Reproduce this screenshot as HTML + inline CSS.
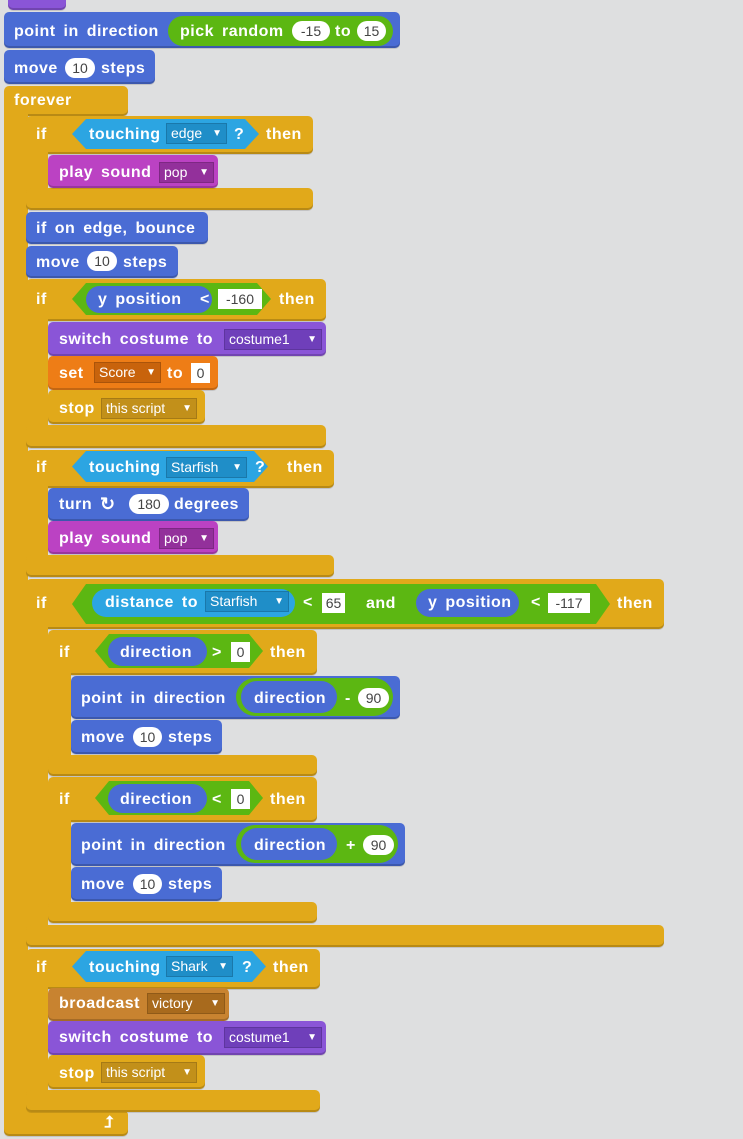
<!DOCTYPE html>
<html><head><meta charset="utf-8"><style>
body{margin:0;width:743px;height:1139px;overflow:hidden;background:#dedfe0;position:relative;font-family:"Liberation Sans",sans-serif}
.b{position:absolute;border-radius:5px;box-shadow:inset 0 -2px 0 rgba(0,0,0,.18),0 1px 0 rgba(0,0,0,.12)}
.m{background:#4a6cd4}.c{background:#e1a91a}.s{background:#2ca5e2}.g{background:#5cb712}.p{background:#bb42c3}.l{background:#8a55d7}.v{background:#ee7d16}.e{background:#c88330}
.t{position:absolute;color:#fff;font-weight:bold;font-size:16px;letter-spacing:0.5px;word-spacing:3px;line-height:18px;white-space:nowrap;margin-top:1px}
.o{position:absolute;background:#fff;border-radius:10px;color:#444;font-size:14px;text-align:center;line-height:20px;height:20px}
.x{position:absolute;background:#fff;color:#444;font-size:14px;text-align:center;line-height:20px;height:20px}
.d{position:absolute;color:#fff;font-size:14px;line-height:21px;height:21px;padding-left:5px;box-sizing:border-box;box-shadow:inset 0 0 0 1px rgba(0,0,0,.15);white-space:nowrap}
.d::after{content:"▼";position:absolute;right:5px;top:0;font-size:10px}
.h{position:absolute;clip-path:polygon(14px 0,calc(100% - 14px) 0,100% 50%,calc(100% - 14px) 100%,14px 100%,0 50%)}
.r{position:absolute;border-radius:16px}
</style></head><body>
<div class="b l" style="left:8px;top:-8px;width:58px;height:18px"></div>
<div class="b m" style="left:4px;top:12px;width:396px;height:36px"></div>
<div class="t" style="left:14px;top:22px">point in direction</div>
<div class="r g" style="left:168px;top:16px;width:225px;height:30px"></div>
<div class="t" style="left:180px;top:22px">pick random</div>
<div class="o" style="left:292px;top:21px;width:38px">-15</div>
<div class="t" style="left:335px;top:22px">to</div>
<div class="o" style="left:357px;top:21px;width:29px">15</div>
<div class="b m" style="left:4px;top:50px;width:151px;height:34px"></div>
<div class="t" style="left:14px;top:59px">move</div>
<div class="o" style="left:65px;top:58px;width:30px">10</div>
<div class="t" style="left:101px;top:59px">steps</div>
<div class="b c" style="left:4px;top:86px;width:124px;height:30px"></div>
<div class="c" style="position:absolute;left:4px;top:100px;width:24px;height:1020px"></div>
<div class="b c" style="left:4px;top:1110px;width:124px;height:26px"></div>
<div class="t" style="left:14px;top:91px">forever</div>
<div class="t" style="left:104px;top:1113px;font-size:16px">⮥</div>
<div class="b c" style="left:26px;top:116px;width:287px;height:38px"></div>
<div class="c" style="position:absolute;left:26px;top:140px;width:22px;height:60px"></div>
<div class="b c" style="left:26px;top:188px;width:287px;height:22px"></div>
<div class="t" style="left:36px;top:125px">if</div>
<div class="h s" style="left:72px;top:119px;width:187px;height:30px"></div>
<div class="t" style="left:89px;top:125px">touching</div>
<div class="d" style="left:166px;top:123px;width:61px;background:#1f8ec8">edge</div>
<div class="t" style="left:234px;top:125px">?</div>
<div class="t" style="left:266px;top:125px">then</div>
<div class="b p" style="left:48px;top:155px;width:170px;height:33px"></div>
<div class="t" style="left:59px;top:163px">play sound</div>
<div class="d" style="left:159px;top:162px;width:55px;background:#93309b">pop</div>
<div class="b m" style="left:26px;top:212px;width:182px;height:32px"></div>
<div class="t" style="left:36px;top:219px">if on edge, bounce</div>
<div class="b m" style="left:26px;top:246px;width:152px;height:32px"></div>
<div class="t" style="left:36px;top:253px">move</div>
<div class="o" style="left:87px;top:251px;width:30px">10</div>
<div class="t" style="left:123px;top:253px">steps</div>
<div class="b c" style="left:26px;top:279px;width:300px;height:42px"></div>
<div class="c" style="position:absolute;left:26px;top:310px;width:22px;height:125px"></div>
<div class="b c" style="left:26px;top:425px;width:300px;height:23px"></div>
<div class="t" style="left:36px;top:290px">if</div>
<div class="h g" style="left:72px;top:283px;width:199px;height:32px"></div>
<div class="r m" style="left:86px;top:286px;width:126px;height:27px"></div>
<div class="t" style="left:98px;top:290px">y position</div>
<div class="t" style="left:200px;top:290px">&lt;</div>
<div class="x" style="left:218px;top:289px;width:44px">-160</div>
<div class="t" style="left:279px;top:290px">then</div>
<div class="b l" style="left:48px;top:322px;width:278px;height:34px"></div>
<div class="t" style="left:59px;top:330px">switch costume to</div>
<div class="d" style="left:224px;top:329px;width:98px;background:#6f3fba">costume1</div>
<div class="b v" style="left:48px;top:356px;width:170px;height:34px"></div>
<div class="t" style="left:59px;top:364px">set</div>
<div class="d" style="left:94px;top:362px;width:67px;background:#c8630c">Score</div>
<div class="t" style="left:167px;top:364px">to</div>
<div class="x" style="left:191px;top:363px;width:19px">0</div>
<div class="b c" style="left:48px;top:390px;width:157px;height:34px"></div>
<div class="t" style="left:59px;top:399px">stop</div>
<div class="d" style="left:101px;top:398px;width:96px;background:#c2901a">this script</div>
<div class="b c" style="left:26px;top:450px;width:308px;height:38px"></div>
<div class="c" style="position:absolute;left:26px;top:470px;width:22px;height:95px"></div>
<div class="b c" style="left:26px;top:555px;width:308px;height:22px"></div>
<div class="t" style="left:36px;top:458px">if</div>
<div class="h s" style="left:72px;top:451px;width:196px;height:31px"></div>
<div class="t" style="left:89px;top:458px">touching</div>
<div class="d" style="left:166px;top:457px;width:81px;background:#1f8ec8">Starfish</div>
<div class="t" style="left:255px;top:458px">?</div>
<div class="t" style="left:287px;top:458px">then</div>
<div class="b m" style="left:48px;top:488px;width:201px;height:33px"></div>
<div class="t" style="left:59px;top:495px">turn</div>
<div class="t" style="left:100px;top:494px;font-size:18px">↻</div>
<div class="o" style="left:129px;top:494px;width:40px">180</div>
<div class="t" style="left:174px;top:495px">degrees</div>
<div class="b p" style="left:48px;top:521px;width:170px;height:33px"></div>
<div class="t" style="left:59px;top:529px">play sound</div>
<div class="d" style="left:159px;top:528px;width:55px;background:#93309b">pop</div>
<div class="b c" style="left:26px;top:579px;width:638px;height:50px"></div>
<div class="c" style="position:absolute;left:26px;top:610px;width:22px;height:325px"></div>
<div class="b c" style="left:26px;top:925px;width:638px;height:22px"></div>
<div class="t" style="left:36px;top:594px">if</div>
<div class="h g" style="left:72px;top:584px;width:538px;height:40px"></div>
<div class="r s" style="left:92px;top:589px;width:203px;height:28px"></div>
<div class="t" style="left:105px;top:593px">distance to</div>
<div class="d" style="left:205px;top:591px;width:84px;background:#1f8ec8">Starfish</div>
<div class="t" style="left:303px;top:593px">&lt;</div>
<div class="x" style="left:322px;top:593px;width:23px">65</div>
<div class="t" style="left:366px;top:594px">and</div>
<div class="r m" style="left:416px;top:589px;width:103px;height:28px"></div>
<div class="t" style="left:428px;top:593px">y position</div>
<div class="t" style="left:531px;top:593px">&lt;</div>
<div class="x" style="left:548px;top:593px;width:42px">-117</div>
<div class="t" style="left:617px;top:594px">then</div>
<div class="b c" style="left:48px;top:630px;width:269px;height:45px"></div>
<div class="c" style="position:absolute;left:48px;top:660px;width:23px;height:105px"></div>
<div class="b c" style="left:48px;top:755px;width:269px;height:21px"></div>
<div class="t" style="left:59px;top:643px">if</div>
<div class="h g" style="left:95px;top:634px;width:168px;height:34px"></div>
<div class="r m" style="left:108px;top:637px;width:99px;height:29px"></div>
<div class="t" style="left:120px;top:643px">direction</div>
<div class="t" style="left:212px;top:643px">&gt;</div>
<div class="x" style="left:231px;top:642px;width:19px">0</div>
<div class="t" style="left:270px;top:643px">then</div>
<div class="b m" style="left:71px;top:676px;width:329px;height:43px"></div>
<div class="t" style="left:81px;top:689px">point in direction</div>
<div class="r g" style="left:236px;top:678px;width:157px;height:38px;border-radius:19px"></div>
<div class="r m" style="left:241px;top:681px;width:96px;height:32px"></div>
<div class="t" style="left:254px;top:689px">direction</div>
<div class="t" style="left:345px;top:689px">-</div>
<div class="o" style="left:358px;top:688px;width:31px">90</div>
<div class="b m" style="left:71px;top:720px;width:151px;height:34px"></div>
<div class="t" style="left:81px;top:728px">move</div>
<div class="o" style="left:133px;top:727px;width:29px">10</div>
<div class="t" style="left:168px;top:728px">steps</div>
<div class="b c" style="left:48px;top:777px;width:269px;height:45px"></div>
<div class="c" style="position:absolute;left:48px;top:805px;width:23px;height:108px"></div>
<div class="b c" style="left:48px;top:902px;width:269px;height:21px"></div>
<div class="t" style="left:59px;top:790px">if</div>
<div class="h g" style="left:95px;top:781px;width:168px;height:34px"></div>
<div class="r m" style="left:108px;top:784px;width:99px;height:29px"></div>
<div class="t" style="left:120px;top:790px">direction</div>
<div class="t" style="left:212px;top:790px">&lt;</div>
<div class="x" style="left:231px;top:789px;width:19px">0</div>
<div class="t" style="left:270px;top:790px">then</div>
<div class="b m" style="left:71px;top:823px;width:334px;height:43px"></div>
<div class="t" style="left:81px;top:836px">point in direction</div>
<div class="r g" style="left:236px;top:825px;width:162px;height:38px;border-radius:19px"></div>
<div class="r m" style="left:241px;top:828px;width:96px;height:32px"></div>
<div class="t" style="left:254px;top:836px">direction</div>
<div class="t" style="left:346px;top:836px">+</div>
<div class="o" style="left:363px;top:835px;width:31px">90</div>
<div class="b m" style="left:71px;top:867px;width:151px;height:34px"></div>
<div class="t" style="left:81px;top:875px">move</div>
<div class="o" style="left:133px;top:874px;width:29px">10</div>
<div class="t" style="left:168px;top:875px">steps</div>
<div class="b c" style="left:26px;top:949px;width:294px;height:40px"></div>
<div class="c" style="position:absolute;left:26px;top:975px;width:22px;height:125px"></div>
<div class="b c" style="left:26px;top:1090px;width:294px;height:22px"></div>
<div class="t" style="left:36px;top:958px">if</div>
<div class="h s" style="left:72px;top:951px;width:194px;height:31px"></div>
<div class="t" style="left:89px;top:958px">touching</div>
<div class="d" style="left:166px;top:956px;width:67px;background:#1f8ec8">Shark</div>
<div class="t" style="left:242px;top:958px">?</div>
<div class="t" style="left:273px;top:958px">then</div>
<div class="b e" style="left:48px;top:988px;width:181px;height:33px"></div>
<div class="t" style="left:59px;top:994px">broadcast</div>
<div class="d" style="left:147px;top:993px;width:78px;background:#a86a1d">victory</div>
<div class="b l" style="left:48px;top:1021px;width:278px;height:34px"></div>
<div class="t" style="left:59px;top:1028px">switch costume to</div>
<div class="d" style="left:224px;top:1027px;width:98px;background:#6f3fba">costume1</div>
<div class="b c" style="left:48px;top:1055px;width:157px;height:34px"></div>
<div class="t" style="left:59px;top:1064px">stop</div>
<div class="d" style="left:101px;top:1062px;width:96px;background:#c2901a">this script</div>
</body></html>
